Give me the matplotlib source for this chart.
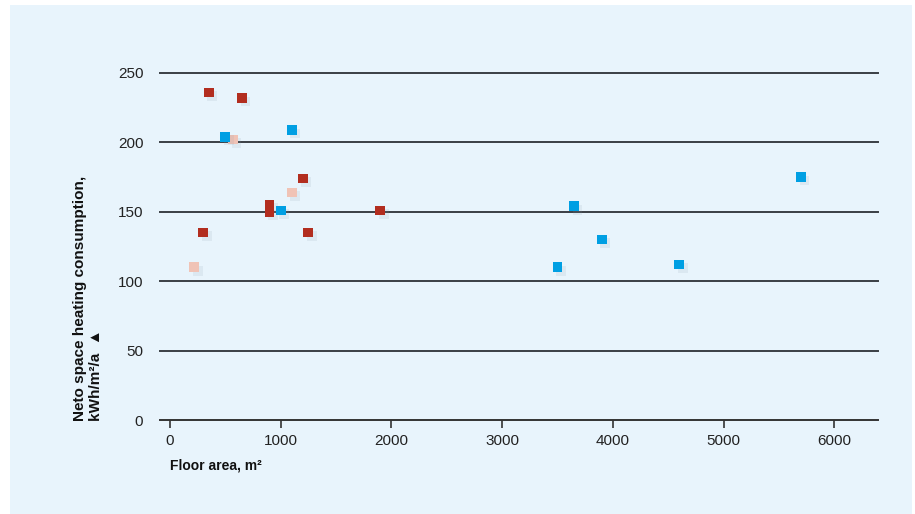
import numpy as np
import matplotlib
matplotlib.use('Agg')
import matplotlib.pyplot as plt
import matplotlib.patheffects as pe
from matplotlib.patches import Rectangle

# data (floor area m2, heating kWh/m2/a)
red_x = [350, 650, 1200, 900, 900, 1900, 300, 1250]
red_y = [236, 232, 174, 155, 150, 151, 135, 135]
pink_x = [570, 1100, 220]
pink_y = [202, 164, 110]
blue_x = [500, 1100, 1000, 3500, 3650, 3900, 4600, 5700]
blue_y = [204, 209, 151, 110, 154, 130, 112, 175]

x_ticks = [0, 1000, 2000, 3000, 4000, 5000, 6000]
y_ticks = [0, 50, 100, 150, 200, 250]

plt.rcParams['font.family'] = ['Liberation Sans Narrow', 'Liberation Sans', 'DejaVu Sans']

W, H = 915, 514
fig = plt.figure(figsize=(W / 100, H / 100), dpi=100)
fig.patch.set_facecolor('white')
# light blue panel behind everything
fig.patches.append(Rectangle((10 / W, 0), 902 / W, 1 - 5 / H, transform=fig.transFigure,
                             facecolor='#e8f4fc', edgecolor='none', zorder=-10))

ax = fig.add_axes([160 / W, 94 / H, 718 / W, 347 / H])
ax.set_facecolor('none')
ax.set_xlim(-90, 6395)
ax.set_ylim(0, 250)

for s in ['left', 'right', 'top']:
    ax.spines[s].set_visible(False)
ax.spines['bottom'].set_color('#333333')
ax.spines['bottom'].set_linewidth(1.4)

for v in y_ticks[1:]:
    ax.axhline(v, color='#3a3f44', lw=1.4, clip_on=False, zorder=1)

# soft drop shadow under the squares
shadow = [pe.SimplePatchShadow(offset=(2.5, -2.5), shadow_rgbFace='#8a9aa8', alpha=0.13), pe.Normal()]
ms = 7
ax.plot(red_x, red_y, 's', color='#b22d1f', ms=ms, mew=0, clip_on=False, zorder=3, path_effects=shadow)
ax.plot(pink_x, pink_y, 's', color='#f0c3b6', ms=ms, mew=0, clip_on=False, zorder=3, path_effects=shadow)
ax.plot(blue_x, blue_y, 's', color='#009fe3', ms=ms, mew=0, clip_on=False, zorder=4, path_effects=shadow)

ax.set_xticks(x_ticks)
ax.set_yticks(y_ticks)
ax.tick_params(axis='x', direction='out', length=6, width=1.2, color='#333333',
               labelsize=11, pad=4, labelcolor='#222222')
ax.tick_params(axis='y', length=0, labelsize=11, pad=12, labelcolor='#222222')

fig.text(170 / W, (H - 466) / H, 'Floor area, m\u00b2', fontsize=10, fontweight='bold',
         ha='left', va='center', color='#111111')
fig.text(88 / W, (H - 421) / H, 'Neto space heating consumption,\nkWh/m\u00b2/a  \u25b2',
         rotation=90, ha='center', va='bottom', multialignment='left',
         fontsize=11, fontweight='bold', color='#111111', linespacing=1.25,
         family=['Liberation Sans', 'DejaVu Sans'])

fig.savefig('out.png', dpi=100, facecolor=fig.get_facecolor())
